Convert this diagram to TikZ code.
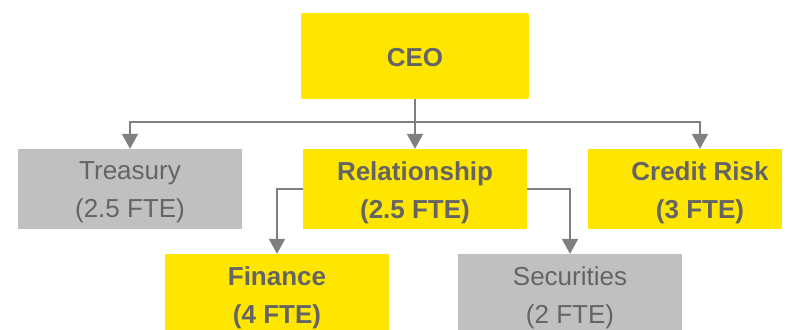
\documentclass[tikz,border=0pt]{standalone}
\usepackage{fontspec}
\setmainfont{Liberation Sans}
\usetikzlibrary{arrows.meta}
\definecolor{eyyellow}{HTML}{FFE600}
\definecolor{boxgray}{HTML}{C0C0C0}
\definecolor{txtgray}{HTML}{646464}
\definecolor{linegray}{HTML}{7F7F7F}
\tikzset{
  ybox/.style={inner sep=0pt, fill=eyyellow, minimum width=224pt, minimum height=80pt},
  gbox/.style={inner sep=0pt, fill=boxgray, minimum width=224pt, minimum height=80pt},
  lbl/.style={inner sep=0pt, align=center, text=txtgray, font=\fontsize{26}{38}\selectfont, yshift=-3.5pt},
  blbl/.style={lbl, font=\fontsize{26}{38}\selectfont\bfseries},
  conn/.style={draw=linegray, line width=2pt},
  arr/.style={conn, -{Triangle[width=16pt,length=15pt]}},
}
\begin{document}
\begin{tikzpicture}[x=1pt,y=-1pt]
\useasboundingbox (0,0) rectangle (791,329);
\clip (0,0) rectangle (791,329);
\node[ybox, minimum width=228pt, minimum height=86pt, rounded corners=2pt] (ceo) at (415,56) {};
\node[blbl, yshift=2pt] (ceot) at (ceo.center) {CEO};
\node[gbox] (tr) at (130,189) {};
\node[lbl] (trt) at (tr.center) {Treasury\\(2.5 FTE)};
\node[ybox] (rel) at (415,189) {};
\node[blbl] (relt) at (rel.center) {Relationship\\(2.5 FTE)};
\node[ybox, minimum width=194pt] (cr) at (685,189) {};
\node[blbl] (crt) at (700,189) {Credit Risk\\(3 FTE)};
\node[ybox] (fin) at (277,294) {};
\node[blbl] (fint) at (fin.center) {Finance\\(4 FTE)};
\node[gbox] (sec) at (570,294) {};
\node[lbl] (sect) at (sec.center) {Securities\\(2 FTE)};
\coordinate (bus) at (415,122);
\coordinate (crtop) at (crt.north |- cr.north);
\draw[conn] (ceo.south) -- (bus);
\draw[arr] (bus) -| (tr.north);
\draw[arr] (bus) -| (crtop);
\draw[arr] (ceo.south) -- (rel.north);
\draw[arr] (rel.west) -| (fin.north);
\draw[arr] (rel.east) -| (sec.north);
\end{tikzpicture}
\end{document}
